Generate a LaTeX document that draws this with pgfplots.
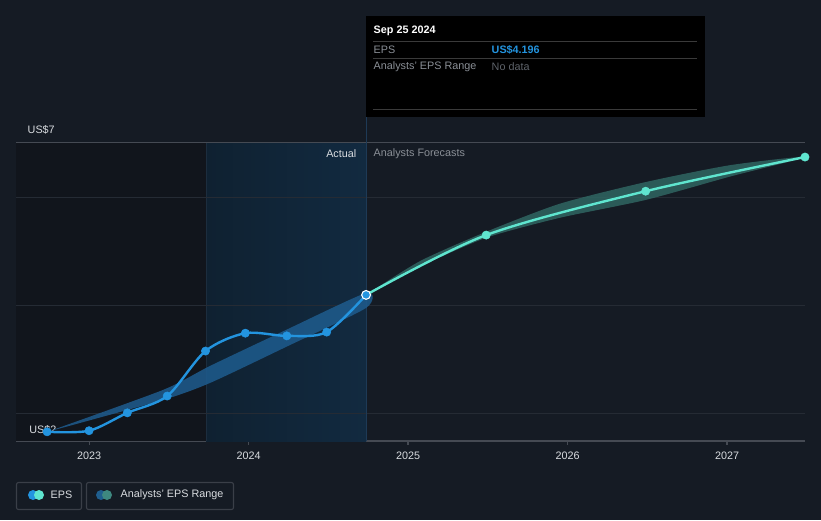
\documentclass[border=0pt]{standalone}
\usepackage{pgfplots}
\pgfplotsset{compat=1.18}
\usepackage{fontspec}
\setmainfont{Liberation Sans}

\definecolor{bg}{HTML}{151B24}
\definecolor{leftbg}{HTML}{11151C}
\definecolor{hlA}{HTML}{0F2131}
\definecolor{hlB}{HTML}{122A40}
\definecolor{hlline}{HTML}{1C2D3E}
\definecolor{curline}{HTML}{1E3A56}
\definecolor{gridc}{HTML}{252B34}
\definecolor{axisc}{HTML}{454A53}
\definecolor{epsblue}{HTML}{2394DF}
\definecolor{fcteal}{HTML}{5FE5CF}
\definecolor{bandblue}{HTML}{1E5C8E}
\definecolor{bandteal}{HTML}{2F6662}
\definecolor{txt}{HTML}{D9DCE0}
\definecolor{muted}{HTML}{8A8F96}
\definecolor{dim}{HTML}{5E636A}
\definecolor{boxc}{HTML}{3A3F48}
\definecolor{sepc}{HTML}{3A3A3A}
\definecolor{legblue}{HTML}{1F5E8E}
\definecolor{legteal}{HTML}{3E8880}

\newcommand{\sz}{\fontsize{8.1}{10}\selectfont}

\begin{document}
\begin{tikzpicture}
% background, in pixel units (y down)
\begin{scope}[x=0.75pt,y=-0.75pt]
  \fill[bg] (0,0) rectangle (821,520);
\end{scope}

\begin{axis}[
  at={(12pt,-330.75pt)}, anchor=south west,
  scale only axis, width=591.75pt, height=330.75pt,
  xmin=2022.542, xmax=2027.489, ymin=1.5, ymax=9.638,
  axis x line*=bottom, axis y line*=left,
  x axis line style={draw=axisc, line width=0.8pt, -},
  y axis line style={draw=none},
  xtick={2023,2024,2025,2026,2027},
  xticklabels={2023,2024,2025,2026,2027},
  x tick label style={font=\sz, text=txt, yshift=-1.5pt},
  xtick style={draw=axisc, line width=0.8pt},
  tick align=outside, major tick length=3pt,
  ytick=\empty,
]
% shaded periods
\fill[leftbg] (axis cs:2022.542,1.5) rectangle (axis cs:2023.734,7);
\shade[left color=hlA, right color=hlB] (axis cs:2023.734,1.5) rectangle (axis cs:2024.737,7);
\draw[hlline, line width=0.6pt] (axis cs:2023.734,1.5) -- (axis cs:2023.734,7);
% grid lines
\draw[gridc, line width=0.8pt] (axis cs:2022.542,2) -- (axis cs:2027.489,2);
\draw[gridc, line width=0.8pt] (axis cs:2022.542,4) -- (axis cs:2027.489,4);
\draw[gridc, line width=0.8pt] (axis cs:2022.542,6) -- (axis cs:2027.489,6);
\draw[axisc, line width=0.8pt] (axis cs:2022.542,7) -- (axis cs:2027.489,7);
\draw[curline, line width=0.8pt] (axis cs:2024.737,1.5) -- (axis cs:2024.737,7.48);

\node[anchor=west, text=txt, font=\sz] at (axis cs:2022.596,1.705) {US\$2};

% analysts' range, past: upper edge left to right, lower edge back
\addplot[fill=bandblue, fill opacity=0.85, draw=none, smooth, tension=0.4] coordinates {
  (2022.737,1.668) (2023.464,2.443) (2023.759,2.886) (2024.235,3.550) (2024.737,4.232)
  (2024.737,3.956) (2024.235,3.236) (2023.759,2.572) (2023.464,2.258) (2022.737,1.668)} -- cycle;

% analysts' range, forecast
\addplot[fill=bandteal, fill opacity=0.85, draw=none, smooth, tension=0.4] coordinates {
  (2024.737,4.196) (2025.075,4.82) (2025.489,5.36) (2025.953,5.88) (2026.492,6.28) (2027.019,6.59) (2027.489,6.742)
  (2027.019,6.38) (2026.492,5.95) (2025.953,5.62) (2025.489,5.25) (2025.075,4.72) (2024.737,4.196)} -- cycle;

% EPS actual
\addplot[epsblue, line width=1.8pt, smooth, tension=0.5, mark=*, mark size=3.1pt,
  mark options={fill=epsblue, draw=epsblue, line width=0.4pt}] coordinates {
  (2022.737,1.67) (2023.000,1.69) (2023.240,2.02) (2023.490,2.33) (2023.730,3.16)
  (2023.980,3.49) (2024.240,3.44) (2024.490,3.51) (2024.737,4.196)};

% EPS forecast
\addplot[fcteal, line width=1.8pt, smooth, tension=0.5, mark=*, mark size=3.1pt,
  mark options={fill=fcteal, draw=fcteal, line width=0.4pt}, mark indices={2,3,4}] coordinates {
  (2024.737,4.196) (2025.490,5.30) (2026.490,6.11) (2027.489,6.74)};

\addplot[only marks, mark=*, mark size=3.3pt, mark options={fill=epsblue, draw=white, line width=0.8pt}]
  coordinates {(2024.737,4.196)};
\end{axis}

\begin{scope}[x=0.75pt,y=-0.75pt]
  % labels
  \node[anchor=west, text=txt, font=\sz] at (23,130) {US\$7};
  \node[anchor=east, text=txt, font=\sz] at (361,154) {Actual};
  \node[anchor=west, text=muted, font=\sz] at (369,154) {Analysts Forecasts};

  % tooltip
  \fill[black] (366,16) rectangle (705,117);
  \node[anchor=west, text=white, font=\sz\bfseries] at (369,31) {Sep 25 2024};
  \draw[sepc, line width=0.6pt] (373,41.5) -- (697,41.5);
  \draw[sepc, line width=0.6pt] (373,58.5) -- (697,58.5);
  \draw[sepc, line width=0.6pt] (373,109) -- (697,109);
  \node[anchor=west, text=muted, font=\sz] at (369,49.5) {EPS};
  \node[anchor=west, text=epsblue, font=\sz\bfseries] at (487,49.5) {US\$4.196};
  \node[anchor=west, text=muted, font=\sz] at (369,66.5) {Analysts' EPS Range};
  \node[anchor=west, text=dim, font=\sz] at (487,66.5) {No data};

  % legend
  \draw[boxc, line width=0.8pt, rounded corners=1.5pt] (16.5,482.5) rectangle (81.5,509.5);
  \fill[epsblue] (33,495) circle (5);
  \fill[fcteal] (39,495) circle (5);
  \node[anchor=west, text=txt, font=\sz] at (46,495) {EPS};
  \draw[boxc, line width=0.8pt, rounded corners=1.5pt] (86.5,482.5) rectangle (233.5,509.5);
  \fill[legblue] (101,495) circle (5);
  \fill[legteal] (107,495) circle (5);
  \node[anchor=west, text=txt, font=\sz] at (116,495) {Analysts' EPS Range};
\end{scope}
\end{tikzpicture}
\end{document}
